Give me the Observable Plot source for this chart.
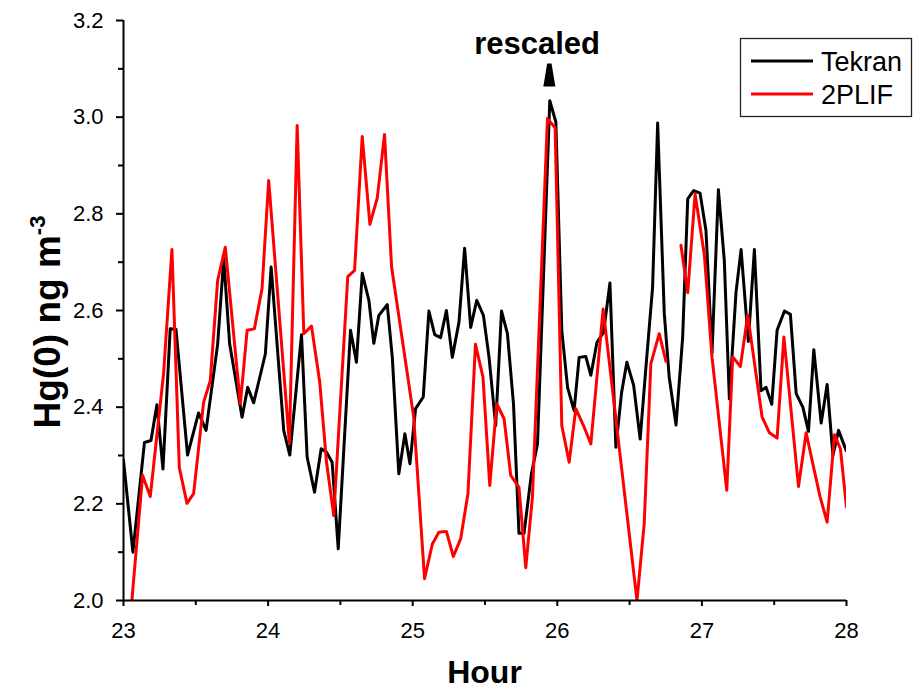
<!DOCTYPE html>
<html>
<head>
<meta charset="utf-8">
<script src="https://cdn.jsdelivr.net/npm/d3@7"></script>
<script src="https://cdn.jsdelivr.net/npm/@observablehq/plot@0.6"></script>
<style>
  html, body { margin: 0; padding: 0; background: #fff; }
  svg { display: block; }
</style>
</head>
<body>
<script>
// ---- data ----
const tekranHour = [23.000,23.065,23.145,23.190,23.231,23.273,23.323,23.363,23.443,23.519,23.571,23.651,23.693,23.734,23.820,23.859,23.900,23.981,24.021,24.108,24.150,24.231,24.270,24.321,24.367,24.404,24.443,24.485,24.570,24.611,24.651,24.697,24.731,24.766,24.824,24.859,24.904,24.946,24.981,25.020,25.073,25.112,25.152,25.193,25.233,25.274,25.320,25.359,25.401,25.443,25.489,25.528,25.574,25.614,25.655,25.697,25.735,25.770,25.821,25.863,25.948,25.990,26.031,26.071,26.116,26.151,26.197,26.232,26.274,26.320,26.364,26.405,26.445,26.481,26.528,26.573,26.613,26.659,26.694,26.740,26.774,26.821,26.867,26.902,26.943,26.987,27.028,27.070,27.114,27.155,27.190,27.236,27.271,27.321,27.363,27.409,27.444,27.483,27.520,27.571,27.612,27.652,27.698,27.737,27.774,27.825,27.866,27.906,27.945,27.998];
const tekranValue = [2.29,2.10,2.327,2.331,2.405,2.272,2.562,2.561,2.301,2.388,2.352,2.53,2.707,2.531,2.379,2.441,2.409,2.51,2.69,2.352,2.301,2.55,2.297,2.224,2.314,2.307,2.286,2.107,2.559,2.493,2.677,2.621,2.532,2.59,2.612,2.503,2.262,2.345,2.283,2.397,2.421,2.599,2.55,2.544,2.6,2.503,2.576,2.729,2.565,2.621,2.59,2.503,2.362,2.599,2.552,2.407,2.139,2.139,2.262,2.324,3.034,2.99,2.559,2.441,2.393,2.503,2.505,2.466,2.534,2.555,2.657,2.317,2.431,2.493,2.445,2.334,2.483,2.648,2.988,2.593,2.462,2.363,2.545,2.831,2.848,2.843,2.766,2.512,2.85,2.703,2.417,2.638,2.726,2.536,2.726,2.434,2.441,2.406,2.559,2.599,2.592,2.428,2.4,2.35,2.519,2.367,2.447,2.3,2.352,2.31];

const plifHour = [23.058,23.132,23.185,23.277,23.335,23.386,23.439,23.485,23.554,23.600,23.651,23.704,23.808,23.855,23.905,23.958,24.004,24.147,24.201,24.247,24.300,24.357,24.404,24.454,24.551,24.598,24.651,24.704,24.755,24.805,24.854,25.007,25.082,25.136,25.181,25.233,25.281,25.332,25.382,25.434,25.486,25.533,25.581,25.632,25.678,25.735,25.782,25.828,25.932,25.985,26.031,26.082,26.128,26.181,26.232,26.317,26.551,26.601,26.647,26.705,26.751,26.800,26.855,26.902,26.953,27.017,27.070,27.172,27.213,27.266,27.317,27.416,27.467,27.520,27.567,27.668,27.721,27.767,27.818,27.866,27.917,27.958,28.000];
const plifValue = [2.0,2.259,2.215,2.469,2.726,2.275,2.201,2.221,2.41,2.455,2.662,2.731,2.407,2.559,2.562,2.645,2.869,2.326,2.983,2.552,2.568,2.452,2.286,2.176,2.67,2.683,2.96,2.778,2.833,2.964,2.69,2.379,2.045,2.117,2.141,2.143,2.091,2.128,2.221,2.53,2.462,2.238,2.407,2.376,2.259,2.234,2.068,2.214,2.997,2.978,2.362,2.286,2.397,2.362,2.324,2.603,2.0,2.159,2.49,2.552,2.495,null,2.735,2.637,2.841,2.715,2.503,2.228,2.504,2.484,2.59,2.38,2.347,2.336,2.545,2.236,2.347,2.283,2.214,2.162,2.343,2.314,2.193];

const seriesNames = ["Tekran", "2PLIF"];
const xMajorTicks = [23, 24, 25, 26, 27, 28];
const xMinorTicks = [23.5, 24.5, 25.5, 26.5, 27.5];
const yMajorTicks = [2.0, 2.2, 2.4, 2.6, 2.8, 3.0, 3.2];
const yMinorTicks = [2.1, 2.3, 2.5, 2.7, 2.9, 3.1];
const annotationText = ["rescaled"];
const annotationHour = [25.86];
const annotationValue = [3.152];
const arrowHour = [25.945];
const arrowValue = [3.086];

// ---- tables ----
const tekran = tekranHour.map((h, i) => ({hour: h, value: tekranValue[i]}));
const plif = plifHour.map((h, i) => ({hour: h, value: plifValue[i]}));
const annotations = annotationText.map((t, i) => ({text: t, hour: annotationHour[i], value: annotationValue[i]}));
const arrows = arrowHour.map((h, i) => ({hour: h, value: arrowValue[i]}));

const FONT = "'Liberation Sans', Arial, Helvetica, sans-serif";

// trapezoid arrowhead pointing up
const arrowSymbol = {
  draw(ctx, size) {
    ctx.moveTo(-2.2, -12);
    ctx.lineTo(2.2, -12);
    ctx.lineTo(6, 11);
    ctx.lineTo(-6, 11);
    ctx.closePath();
  }
};

const chart = Plot.plot({
  width: 913,
  height: 691,
  marginLeft: 123,
  marginRight: 67,
  marginTop: 20,
  marginBottom: 91,
  x: {domain: [23, 28]},
  y: {domain: [2.0, 3.2]},
  style: {fontFamily: FONT, color: "black", background: "white", overflow: "visible"},
  marks: [
    Plot.line(tekran, {x: "hour", y: "value", stroke: "black", strokeWidth: 3, clip: true}),
    Plot.line(plif, {x: "hour", y: "value", stroke: "#ff0000", strokeWidth: 3, clip: true}),
    Plot.axisX({ticks: xMajorTicks, tickSize: 6, tickPadding: 16, tickFormat: d => String(d), fontSize: 22, strokeWidth: 2, label: null}),
    Plot.axisX({ticks: xMinorTicks, tickSize: 5, tickFormat: () => "", strokeWidth: 2, label: null}),
    Plot.axisY({ticks: yMajorTicks, tickSize: 7, tickPadding: 13, tickFormat: d3.format(".1f"), fontSize: 22, strokeWidth: 2, label: null}),
    Plot.axisY({ticks: yMinorTicks, tickSize: 5, tickFormat: () => "", strokeWidth: 2, label: null}),
    Plot.ruleX([23], {strokeWidth: 2}),
    Plot.ruleY([2.0], {strokeWidth: 2}),
    Plot.text(annotations, {x: "hour", y: "value", text: "text", fontSize: 31, fontWeight: "bold", fill: "black"}),
    Plot.dot(arrows, {x: "hour", y: "value", symbol: arrowSymbol, fill: "black", stroke: "none"})
  ]
});

document.body.append(chart);

// ---- titles and legend ----
const svg = d3.select(chart);

svg.append("text")
  .attr("x", 484.5).attr("y", 683)
  .attr("text-anchor", "middle")
  .style("font-family", FONT).style("font-size", "32px").style("font-weight", "bold")
  .attr("fill", "black")
  .text("Hour");

const yl = svg.append("text")
  .attr("transform", "translate(60,322) rotate(-90)")
  .attr("text-anchor", "middle")
  .style("font-family", FONT).style("font-size", "37px").style("font-weight", "bold")
  .attr("fill", "black");
yl.append("tspan").text("Hg(0) ng m");
yl.append("tspan").attr("dy", "-15").style("font-size", "22px").text("-3");

const lg = svg.append("g");
lg.append("rect")
  .attr("x", 740.5).attr("y", 38.5).attr("width", 171).attr("height", 78)
  .attr("fill", "white").attr("stroke", "#222").attr("stroke-width", 1.3);
const legendColors = ["black", "#ff0000"];
seriesNames.forEach((name, i) => {
  const cy = 61 + i * 33;
  lg.append("line")
    .attr("x1", 751).attr("x2", 813).attr("y1", cy).attr("y2", cy)
    .attr("stroke", legendColors[i]).attr("stroke-width", 3);
  lg.append("text")
    .attr("x", 821).attr("y", cy + 9.5)
    .attr("text-anchor", "start")
    .style("font-family", FONT).style("font-size", "27px")
    .attr("fill", "black")
    .text(name);
});
</script>
</body>
</html>
